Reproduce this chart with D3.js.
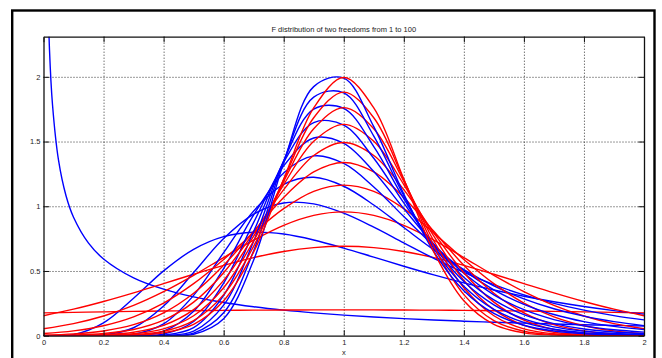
<!DOCTYPE html>
<html>
<head>
<meta charset="utf-8">
<script src="https://cdn.jsdelivr.net/npm/d3@7"></script>
<style>
  body { margin: 0; background: #fff; }
  text { font-family: "Liberation Sans", Arial, Helvetica, sans-serif; fill: #222; }
</style>
</head>
<body>
<div id="chart"></div>
<script>
////
// DATA
////
const freedoms = [1, 12, 23, 34, 45, 56, 67, 78, 89, 100];
const xTicks = [0, 0.2, 0.4, 0.6, 0.8, 1, 1.2, 1.4, 1.6, 1.8, 2];
const yTicks = [0, 0.5, 1, 1.5, 2];
const xTickLabels = ["0", "0.2", "0.4", "0.6", "0.8", "1", "1.2", "1.4", "1.6", "1.8", "2"];
const yTickLabels = ["0", "0.5", "1", "1.5", "2"];

// sample points along x
const xs = [0, 0.1, 0.2, 0.3, 0.4, 0.5, 0.6, 0.7, 0.8, 0.9, 1, 1.1, 1.2, 1.3, 1.4, 1.5, 1.6, 1.7, 1.8, 1.9, 2];
// the 1/1 curve shoots up near zero, so it gets its own denser x list
const xsNearZero = [0.01, 0.02, 0.03, 0.05, 0.075, 0.1, 0.15, 0.2, 0.3, 0.4, 0.5, 0.6, 0.7, 0.8, 0.9, 1, 1.1, 1.2, 1.3, 1.4, 1.5, 1.6, 1.7, 1.8, 1.9, 2];

// blue: F density
const fDens1   = [3.1515, 2.2066, 1.7842, 1.3557, 1.0812, 0.9151, 0.7147, 0.5931, 0.4470, 0.3595, 0.3001, 0.2568, 0.2238, 0.1977, 0.1766, 0.1592, 0.1445, 0.1321, 0.1214, 0.1121, 0.1040, 0.0968, 0.0904, 0.0847, 0.0796, 0.0750];
const fDens12  = [0, 0.0088, 0.0995, 0.2891, 0.5007, 0.6677, 0.7658, 0.7997, 0.7852, 0.7395, 0.6768, 0.6069, 0.5366, 0.4697, 0.4082, 0.3532, 0.3046, 0.2622, 0.2256, 0.1940, 0.1669];
const fDens23  = [0, 0, 0.0055, 0.0615, 0.2293, 0.4884, 0.7508, 0.9396, 1.0254, 1.0184, 0.9463, 0.8381, 0.7168, 0.5976, 0.4889, 0.3945, 0.3152, 0.2501, 0.1974, 0.1554, 0.1221];
const fDens34  = [0, 0, 0.0003, 0.0114, 0.0916, 0.3118, 0.6424, 0.9633, 1.1685, 1.2238, 1.1546, 1.0099, 0.8356, 0.6634, 0.5109, 0.3845, 0.2846, 0.2081, 0.1508, 0.1086, 0.0780];
const fDens45  = [0, 0, 0, 0.0020, 0.0346, 0.1880, 0.5191, 0.9329, 1.2577, 1.3890, 1.3307, 1.1495, 0.9200, 0.6957, 0.5043, 0.3541, 0.2428, 0.1636, 0.1088, 0.0717, 0.0470];
const fDens56  = [0, 0, 0, 0.0003, 0.0127, 0.1099, 0.4065, 0.8754, 1.3118, 1.5277, 1.4861, 1.2678, 0.9816, 0.7070, 0.4823, 0.3159, 0.2007, 0.1246, 0.0761, 0.0459, 0.0275];
const fDens67  = [0, 0, 0, 0, 0.0045, 0.0629, 0.3120, 0.8052, 1.3411, 1.6470, 1.6267, 1.3705, 1.0266, 0.7042, 0.4522, 0.2762, 0.1626, 0.0930, 0.0521, 0.0288, 0.0157];
const fDens78  = [0, 0, 0, 0, 0.0016, 0.0355, 0.2362, 0.7305, 1.3521, 1.7510, 1.7560, 1.4612, 1.0588, 0.6918, 0.4181, 0.2382, 0.1299, 0.0685, 0.0352, 0.0178, 0.0089];
const fDens89  = [0, 0, 0, 0, 0.0006, 0.0199, 0.1770, 0.6559, 1.3495, 1.8428, 1.8765, 1.5420, 1.0810, 0.6726, 0.3826, 0.2034, 0.1027, 0.0499, 0.0236, 0.0109, 0.0050];
const fDens100 = [0, 0, 0, 0, 0.0002, 0.0110, 0.1316, 0.5844, 1.3364, 1.9244, 1.9897, 1.6148, 1.0950, 0.6490, 0.3475, 0.1723, 0.0806, 0.0361, 0.0156, 0.0066, 0.0028];

// red: normal approximation around 1
const nDens1   = [0.1760, 0.1803, 0.1841, 0.1876, 0.1907, 0.1933, 0.1955, 0.1973, 0.1985, 0.1992, 0.1995, 0.1992, 0.1985, 0.1973, 0.1955, 0.1933, 0.1907, 0.1876, 0.1841, 0.1803, 0.1760];
const nDens12  = [0.1542, 0.2050, 0.2646, 0.3313, 0.4026, 0.4749, 0.5436, 0.6037, 0.6508, 0.6807, 0.6910, 0.6807, 0.6508, 0.6037, 0.5436, 0.4749, 0.4026, 0.3313, 0.2646, 0.2050, 0.1542];
const nDens23  = [0.0540, 0.0932, 0.1519, 0.2338, 0.3398, 0.4662, 0.6039, 0.7385, 0.8527, 0.9295, 0.9566, 0.9295, 0.8527, 0.7385, 0.6039, 0.4662, 0.3398, 0.2338, 0.1519, 0.0932, 0.0540];
const nDens34  = [0.0166, 0.0372, 0.0766, 0.1449, 0.2519, 0.4020, 0.5892, 0.7934, 0.9813, 1.1147, 1.1631, 1.1147, 0.9813, 0.7934, 0.5892, 0.4020, 0.2519, 0.1449, 0.0766, 0.0372, 0.0166];
const nDens45  = [0.0048, 0.0141, 0.0366, 0.0850, 0.1766, 0.3279, 0.5440, 0.8066, 1.0685, 1.2649, 1.3381, 1.2649, 1.0685, 0.8066, 0.5440, 0.3279, 0.1766, 0.0850, 0.0366, 0.0141, 0.0048];
const nDens56  = [0.0014, 0.0051, 0.0169, 0.0483, 0.1201, 0.2594, 0.4870, 0.7950, 1.1282, 1.3918, 1.4927, 1.3918, 1.1282, 0.7950, 0.4870, 0.2594, 0.1201, 0.0483, 0.0169, 0.0051, 0.0014];
const nDens67  = [0.0004, 0.0018, 0.0077, 0.0270, 0.0801, 0.2012, 0.4275, 0.7684, 1.1679, 1.5015, 1.6327, 1.5015, 1.1679, 0.7684, 0.4275, 0.2012, 0.0801, 0.0270, 0.0077, 0.0018, 0.0004];
const nDens78  = [0.0001, 0.0007, 0.0034, 0.0148, 0.0527, 0.1539, 0.3702, 0.7326, 1.1928, 1.5981, 1.7617, 1.5981, 1.1928, 0.7326, 0.3702, 0.1539, 0.0527, 0.0148, 0.0034, 0.0007, 0.0001];
const nDens89  = [0, 0.0002, 0.0015, 0.0081, 0.0343, 0.1166, 0.3173, 0.6914, 1.2059, 1.6837, 1.8818, 1.6837, 1.2059, 0.6914, 0.3173, 0.1166, 0.0343, 0.0081, 0.0015, 0.0002, 0];
const nDens100 = [0, 0.0001, 0.0007, 0.0044, 0.0222, 0.0876, 0.2700, 0.6476, 1.2098, 1.7603, 1.9947, 1.7603, 1.2098, 0.6476, 0.2700, 0.0876, 0.0222, 0.0044, 0.0007, 0.0001, 0];

const blueSeries = [fDens1, fDens12, fDens23, fDens34, fDens45, fDens56, fDens67, fDens78, fDens89, fDens100];
const redSeries = [nDens1, nDens12, nDens23, nDens34, nDens45, nDens56, nDens67, nDens78, nDens89, nDens100];

////
// CONTAINER
////
const W = 662, H = 358;
const plot = { left: 43.5, right: 644, top: 36.7, bottom: 335.7 };

const svg = d3.select("#chart")
    .append("svg")
    .attr("width", W)
    .attr("height", H);

// figure frame (bottom edge falls outside the picture)
svg.append("rect")
    .attr("x", 12.2).attr("y", 10.5)
    .attr("width", 642.3).attr("height", 400)
    .attr("fill", "#fff")
    .attr("stroke", "#000")
    .attr("stroke-width", 2.4);

const x = d3.scaleLinear().domain([0, 2]).range([plot.left, plot.right]);
const y = d3.scaleLinear().domain([0, 2.31]).range([plot.bottom, plot.top]);

// grid
const grid = svg.append("g")
    .attr("stroke", "#333")
    .attr("stroke-width", 1)
    .attr("stroke-dasharray", "1,2");
grid.selectAll(".vgrid")
    .data(xTicks.slice(1, -1))
    .enter().append("line")
    .attr("class", "vgrid")
    .attr("x1", d => x(d) + 0.5).attr("x2", d => x(d) + 0.5)
    .attr("y1", plot.top).attr("y2", plot.bottom);
grid.selectAll(".hgrid")
    .data(yTicks.slice(1))
    .enter().append("line")
    .attr("class", "hgrid")
    .attr("x1", plot.left).attr("x2", plot.right)
    .attr("y1", d => y(d) + 0.5).attr("y2", d => y(d) + 0.5);

// curves
svg.append("clipPath").attr("id", "clip")
    .append("rect")
    .attr("x", plot.left).attr("y", plot.top)
    .attr("width", plot.right - plot.left).attr("height", plot.bottom - plot.top);

const line = d3.line()
    .x(d => x(d[0]))
    .y(d => y(d[1]))
    .curve(d3.curveCatmullRom);

const curves = svg.append("g").attr("clip-path", "url(#clip)")
    .attr("fill", "none")
    .attr("stroke-width", 1.4);

freedoms.forEach((n, i) => {
    const bx = i == 0 ? xsNearZero : xs;
    curves.append("path")
        .datum(bx.map((v, j) => [v, blueSeries[i][j]]))
        .attr("stroke", "#0000ff")
        .attr("d", line);
    curves.append("path")
        .datum(xs.map((v, j) => [v, redSeries[i][j]]))
        .attr("stroke", "#ff0000")
        .attr("d", line);
});

// axes (ticks pointing inward, box on)
const fontSize = "7.5px";
const xAxisB = svg.append("g")
    .attr("transform", `translate(0,${plot.bottom})`)
    .call(d3.axisBottom(x).tickValues(xTicks).tickFormat((d, i) => xTickLabels[i])
        .tickSize(-5.5).tickSizeOuter(0).tickPadding(3.5));
const xAxisT = svg.append("g")
    .attr("transform", `translate(0,${plot.top})`)
    .call(d3.axisTop(x).tickValues(xTicks).tickFormat("").tickSize(-5.5).tickSizeOuter(0));
const yAxisL = svg.append("g")
    .attr("transform", `translate(${plot.left},0)`)
    .call(d3.axisLeft(y).tickValues(yTicks).tickFormat((d, i) => yTickLabels[i])
        .tickSize(-5.5).tickSizeOuter(0).tickPadding(3));
const yAxisR = svg.append("g")
    .attr("transform", `translate(${plot.right},0)`)
    .call(d3.axisRight(y).tickValues(yTicks).tickFormat("").tickSize(-5.5).tickSizeOuter(0));

[xAxisB, xAxisT, yAxisL, yAxisR].forEach(a => {
    a.select(".domain").attr("stroke", "#111").attr("stroke-width", 1.3);
    a.selectAll(".tick line").attr("stroke", "#111");
    a.selectAll("text").style("font-size", fontSize).attr("fill", "#222")
        .style("font-family", "'Liberation Sans', Arial, sans-serif");
});

// title and axis label
svg.append("text")
    .attr("x", (plot.left + plot.right) / 2)
    .attr("y", 31.5)
    .attr("text-anchor", "middle")
    .style("font-size", fontSize)
    .text("F distribution of two freedoms from 1 to 100");

svg.append("text")
    .attr("x", (plot.left + plot.right) / 2)
    .attr("y", 355)
    .attr("text-anchor", "middle")
    .style("font-size", fontSize)
    .text("x");
</script>
</body>
</html>
